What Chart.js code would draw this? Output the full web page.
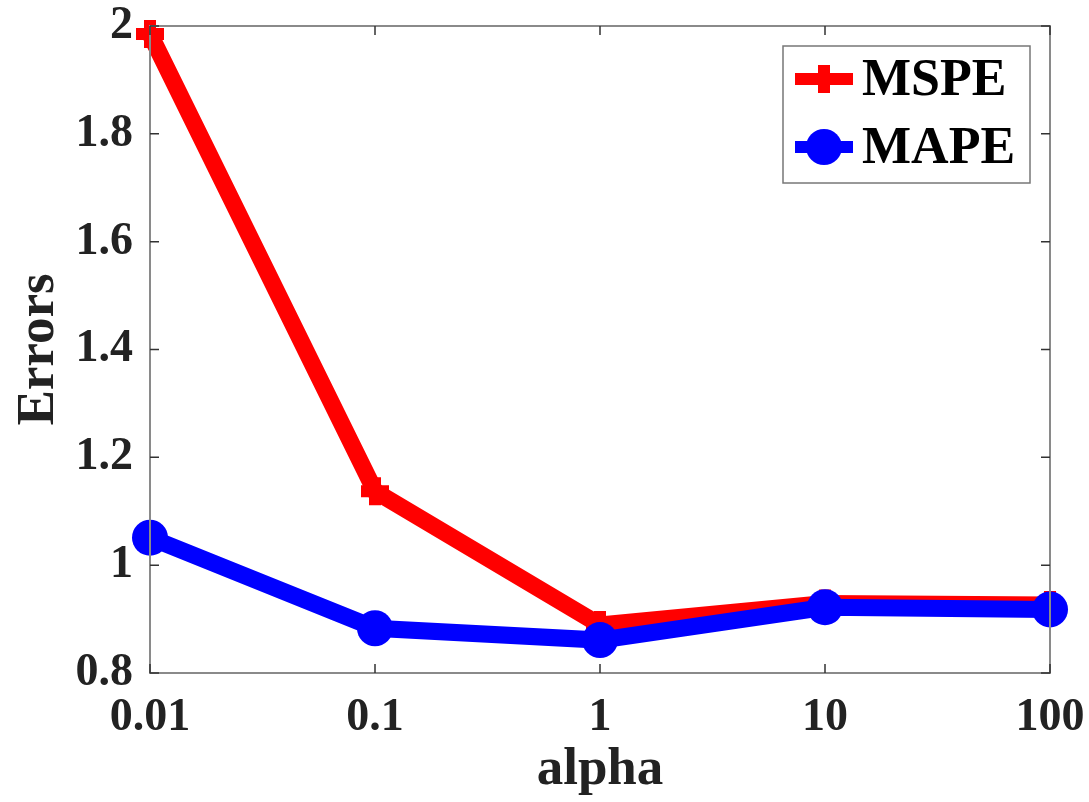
<!DOCTYPE html>
<html>
<head>
<meta charset="utf-8">
<script src="https://cdn.jsdelivr.net/npm/chart.js@4/dist/chart.umd.min.js"></script>
<style>
  html, body { margin: 0; padding: 0; background: #fff; }
  canvas { display: block; }
</style>
</head>
<body>
<canvas id="chart" width="1089" height="802"></canvas>
<script>
// Data
const alphaLabels = ['0.01', '0.1', '1', '10', '100'];
const mspeValues = [1.985, 1.137, 0.889, 0.929, 0.926];
const mapeValues = [1.051, 0.883, 0.861, 0.922, 0.918];
const yTicks = [0.8, 1, 1.2, 1.4, 1.6, 1.8, 2];

const serif = '"Liberation Serif", "Times New Roman", serif';

// Box around the plot with inward ticks on every side
const boxPlugin = {
    id: 'boxPlugin',
    afterDatasetsDraw(chart) {
        const c = chart.ctx;
        const a = chart.chartArea;
        const xs = chart.scales.x;
        const ys = chart.scales.y;
        const len = 9;
        c.save();
        c.strokeStyle = '#8a8a8a';
        c.lineWidth = 2;
        c.strokeRect(a.left, a.top, a.right - a.left, a.bottom - a.top);
        c.strokeStyle = '#333';
        c.lineWidth = 1.5;
        c.beginPath();
        xs.ticks.forEach((t, i) => {
            const x = xs.getPixelForTick(i);
            c.moveTo(x, a.bottom); c.lineTo(x, a.bottom - len);
            c.moveTo(x, a.top); c.lineTo(x, a.top + len);
        });
        ys.ticks.forEach(t => {
            const y = ys.getPixelForValue(t.value);
            c.moveTo(a.left, y); c.lineTo(a.left + len, y);
            c.moveTo(a.right, y); c.lineTo(a.right - len, y);
        });
        c.stroke();
        c.restore();
    }
};

// Legend box in the top right corner of the plot
const legendPlugin = {
    id: 'legendPlugin',
    afterDraw(chart) {
        const c = chart.ctx;
        const a = chart.chartArea;
        const bx = a.right - 267, by = a.top + 20, bw = 247, bh = 137;
        c.save();
        c.fillStyle = '#fff';
        c.fillRect(bx, by, bw, bh);
        c.strokeStyle = '#777';
        c.lineWidth = 1.5;
        c.strokeRect(bx, by, bw, bh);
        chart.data.datasets.forEach((ds, i) => {
            const cy = by + 33 + i * 68;
            const x0 = bx + 12, x1 = bx + 70, xm = (x0 + x1) / 2;
            c.strokeStyle = ds.borderColor;
            c.lineWidth = 12;
            c.beginPath();
            c.moveTo(x0, cy); c.lineTo(x1, cy);
            c.stroke();
            if (ds.pointStyle === 'circle') {
                c.fillStyle = ds.borderColor;
                c.beginPath();
                c.arc(xm, cy, 18, 0, Math.PI * 2);
                c.fill();
            } else {
                c.fillStyle = ds.borderColor;
                c.fillRect(xm - 6, cy - 14, 12, 28);
            }
            c.fillStyle = '#000';
            c.font = 'bold 52px ' + serif;
            c.textBaseline = 'middle';
            c.fillText(ds.label, bx + 79, cy + 3);
        });
        c.restore();
    }
};

new Chart(document.getElementById('chart').getContext('2d'), {
    type: 'line',
    data: {
        labels: alphaLabels,
        datasets: [{
            label: 'MSPE',
            data: mspeValues,
            borderColor: '#ff0000',
            backgroundColor: '#ff0000',
            borderWidth: 17,
            pointStyle: 'cross',
            pointRadius: 14,
            pointBorderWidth: 12,
            pointBorderColor: '#ff0000',
            tension: 0,
            clip: false,
            order: 2
        }, {
            label: 'MAPE',
            data: mapeValues,
            borderColor: '#0000ff',
            backgroundColor: '#0000ff',
            borderWidth: 17,
            pointStyle: 'circle',
            pointRadius: 18,
            pointBorderWidth: 0,
            pointBackgroundColor: '#0000ff',
            tension: 0,
            clip: false,
            order: 1
        }]
    },
    options: {
        responsive: false,
        animation: false,
        layout: { padding: { top: 22, right: 39, left: 0, bottom: 0 } },
        plugins: {
            legend: { display: false },
            tooltip: { enabled: false }
        },
        scales: {
            x: {
                type: 'category',
                offset: false,
                grid: { display: false, drawTicks: false },
                border: { display: false },
                ticks: {
                    color: '#222',
                    padding: 18,
                    maxRotation: 0,
                    font: { family: serif, size: 46, weight: 'bold' }
                },
                title: {
                    display: true,
                    text: 'alpha',
                    color: '#222',
                    padding: { top: 0, bottom: 0 },
                    font: { family: serif, size: 53, weight: 'bold' }
                },
                afterFit(scale) {
                    scale.height = 129;
                    scale.paddingLeft = 0;
                    scale.paddingRight = 0;
                }
            },
            y: {
                min: 0.8,
                max: 2,
                afterBuildTicks(scale) {
                    scale.ticks = yTicks.map(v => ({ value: v }));
                },
                grid: { display: false, drawTicks: false },
                border: { display: false },
                ticks: {
                    color: '#222',
                    padding: 17,
                    callback: v => String(+v.toFixed(1)),
                    font: { family: serif, size: 46, weight: 'bold' }
                },
                title: {
                    display: true,
                    text: 'Errors',
                    color: '#222',
                    padding: { top: 8, bottom: 0 },
                    font: { family: serif, size: 53, weight: 'bold' }
                },
                afterFit(scale) {
                    scale.width = 150;
                    scale.paddingTop = 0;
                    scale.paddingBottom = 0;
                }
            }
        }
    },
    plugins: [boxPlugin, legendPlugin]
});
</script>
</body>
</html>
